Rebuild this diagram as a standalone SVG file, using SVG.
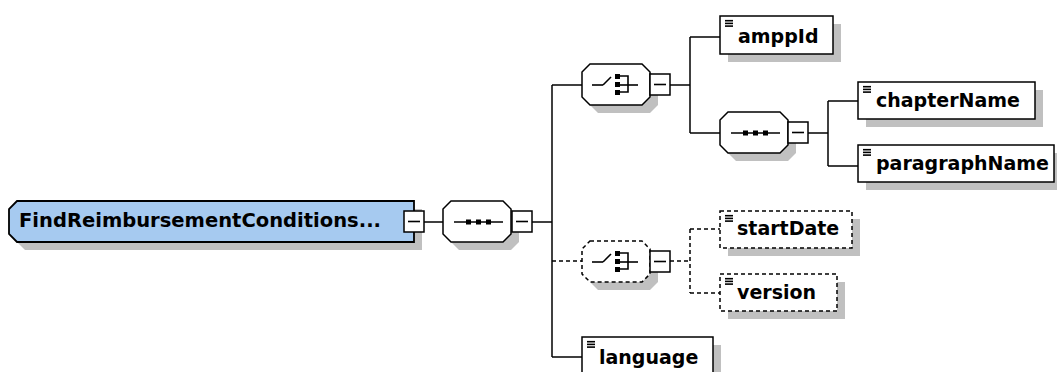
<svg xmlns="http://www.w3.org/2000/svg" width="1057" height="372" viewBox="0 0 1057 372">
<style>
.shadow{fill:#c0c0c0;stroke:none}
.oct{fill:#fff;stroke:#000;stroke-width:1.5}
.dash{stroke-dasharray:4 3}
.box{fill:#fff;stroke:#000;stroke-width:1.5}
.root{fill:#a6caf0;stroke:#000;stroke-width:1.8}
.mbox{fill:#fff;stroke:#000;stroke-width:1.5}
.ln{stroke:#000;stroke-width:1.5;fill:none}
.lbl{font-family:"DejaVu Sans","Verdana",sans-serif;font-weight:bold;font-size:19px;fill:#000}
.ico{stroke:#000;stroke-width:1.6}
.dot{fill:#000}
</style>
<defs>
<path id="octShape" d="M8,0 H60 L68,8 V33 L60,41 H8 L0,33 V8 Z"/>
<g id="minus"><rect class="mbox" x="0" y="0" width="20" height="21"/><line class="ico" x1="4" y1="10.5" x2="16" y2="10.5"/></g>
<g id="elIcon"><line class="ico" x1="5" y1="4.7" x2="13" y2="4.7"/><line class="ico" x1="5" y1="7.4" x2="13" y2="7.4"/><line class="ico" x1="5" y1="10.1" x2="13" y2="10.1"/></g>
<g id="seqIcon"><line class="ico" x1="11" y1="21" x2="60" y2="21"/><rect class="dot" x="23" y="18.5" width="5" height="5"/><rect class="dot" x="33" y="18.5" width="5" height="5"/><rect class="dot" x="43" y="18.5" width="5" height="5"/></g>
<g id="choiceIcon"><line class="ico" x1="10" y1="21" x2="21" y2="21"/><line class="ico" x1="21" y1="21" x2="29" y2="13"/><rect class="dot" x="33" y="10" width="5" height="5"/><rect class="dot" x="33" y="18" width="5" height="5"/><rect class="dot" x="33" y="26" width="5" height="5"/><polyline class="ico" fill="none" points="37,12 46,12 46,28 37,28"/><line class="ico" x1="38" y1="21" x2="56" y2="21"/></g>
</defs>

<g id="connectors">
<line class="ln" x1="424" y1="222" x2="443" y2="222"/>
<line class="ln" x1="532" y1="222" x2="552" y2="222"/>
<line class="ln" x1="552" y1="85" x2="552" y2="357"/>
<line class="ln" x1="552" y1="85" x2="582" y2="85"/>
<line class="ln dash" x1="552" y1="261" x2="582" y2="261"/>
<line class="ln" x1="552" y1="357" x2="582" y2="357"/>
<line class="ln" x1="670" y1="85" x2="690" y2="85"/>
<line class="ln" x1="690" y1="37" x2="690" y2="133"/>
<line class="ln" x1="690" y1="37" x2="720" y2="37"/>
<line class="ln" x1="690" y1="133" x2="720" y2="133"/>
<line class="ln" x1="808" y1="133" x2="828" y2="133"/>
<line class="ln" x1="828" y1="101" x2="828" y2="166"/>
<line class="ln" x1="828" y1="101" x2="858" y2="101"/>
<line class="ln" x1="828" y1="166" x2="858" y2="166"/>
<line class="ln dash" x1="670" y1="261" x2="690" y2="261"/>
<line class="ln dash" x1="690" y1="229" x2="690" y2="293"/>
<line class="ln dash" x1="690" y1="229" x2="720" y2="229"/>
<line class="ln dash" x1="690" y1="293" x2="720" y2="293"/>
</g>

<g id="root">
<path class="shadow" d="M25,209 H422 V250 H25 L17,242 V217 Z"/>
<path class="root" d="M17,201 H414 V242 H17 L9,234 V209 Z"/>
<text class="lbl" x="19" y="227" textLength="362" lengthAdjust="spacingAndGlyphs">FindReimbursementConditions...</text>
<use href="#minus" x="404" y="211"/>
</g>

<g id="seq1">
<use href="#octShape" class="shadow" x="451" y="209"/>
<use href="#octShape" class="oct" x="443" y="201"/>
<use href="#seqIcon" x="443" y="201"/>
<use href="#minus" x="512" y="211"/>
</g>

<g id="choice1">
<use href="#octShape" class="shadow" x="590" y="72"/>
<use href="#octShape" class="oct" x="582" y="64"/>
<use href="#choiceIcon" x="582" y="64"/>
<use href="#minus" x="650" y="74"/>
</g>

<g id="amppId">
<rect class="shadow" x="728" y="24" width="113" height="38"/>
<rect class="box" x="720" y="16" width="113" height="38"/>
<use href="#elIcon" x="720" y="16"/>
<text class="lbl" x="738" y="43">amppId</text>
</g>

<g id="seq2">
<use href="#octShape" class="shadow" x="728" y="120"/>
<use href="#octShape" class="oct" x="720" y="112"/>
<use href="#seqIcon" x="720" y="112"/>
<use href="#minus" x="788" y="122"/>
</g>

<g id="chapterName">
<rect class="shadow" x="866" y="90" width="177" height="37"/>
<rect class="box" x="858" y="82" width="177" height="37"/>
<use href="#elIcon" x="858" y="82"/>
<text class="lbl" x="876" y="107">chapterName</text>
</g>

<g id="paragraphName">
<rect class="shadow" x="866" y="153" width="196" height="37"/>
<rect class="box" x="858" y="145" width="196" height="37"/>
<use href="#elIcon" x="858" y="145"/>
<text class="lbl" x="876" y="170">paragraphName</text>
</g>

<g id="choice2">
<use href="#octShape" class="shadow" x="590" y="249"/>
<use href="#octShape" class="oct dash" x="582" y="241"/>
<use href="#choiceIcon" x="582" y="241"/>
<use href="#minus" x="650" y="251"/>
</g>

<g id="startDate">
<rect class="shadow" x="728" y="219" width="132" height="37"/>
<rect class="box dash" x="720" y="211" width="132" height="37"/>
<use href="#elIcon" x="720" y="211"/>
<text class="lbl" x="737" y="235">startDate</text>
</g>

<g id="version">
<rect class="shadow" x="728" y="282" width="117" height="37"/>
<rect class="box dash" x="720" y="274" width="117" height="37"/>
<use href="#elIcon" x="720" y="274"/>
<text class="lbl" x="737" y="299">version</text>
</g>

<g id="language">
<rect class="shadow" x="590" y="345" width="131" height="40"/>
<rect class="box" x="582" y="337" width="131" height="40"/>
<use href="#elIcon" x="582" y="337"/>
<text class="lbl" x="599" y="364">language</text>
</g>
</svg>
